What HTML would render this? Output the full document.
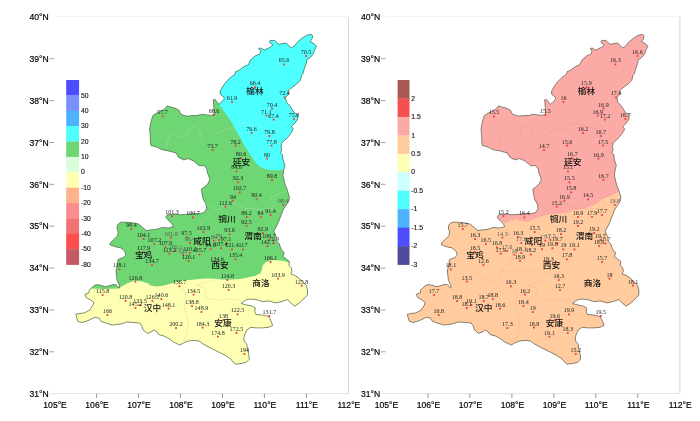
<!DOCTYPE html>
<html lang="zh"><head><meta charset="utf-8"><title>陕西省 降水与气温分布</title>
<style>
html,body{margin:0;padding:0;background:#fff;}
body{width:700px;height:421px;overflow:hidden;}
svg{display:block;}
.ax{font-family:"Liberation Sans","Noto Sans CJK SC",sans-serif;font-size:8.6px;fill:#000;stroke:#000;stroke-width:0.18px;}
.cb{font-family:"Liberation Sans","Noto Sans CJK SC",sans-serif;font-size:6.8px;fill:#111;stroke:#111;stroke-width:0.12px;}
.v{font-family:"Liberation Serif","Noto Serif CJK SC",serif;font-size:6.05px;fill:#1c1c1c;}
.g{fill:#555;}
.c{font-family:"Liberation Sans","Noto Sans CJK SC",sans-serif;font-size:8.2px;fill:#111;font-weight:500;}
</style></head><body>
<svg width="700" height="421" viewBox="0 0 700 421">
<rect width="700" height="421" fill="#fff"/>
<g id="left">
<line x1="55.0" y1="16.6" x2="348.5" y2="16.6" stroke="#f3f3f3" stroke-width="1"/>
<line x1="50.0" y1="393.6" x2="348.5" y2="393.6" stroke="#e3e3e3" stroke-width="1"/>
<line x1="348.5" y1="17" x2="348.5" y2="393.6" stroke="#d6d6d6" stroke-width="1"/>
<text class="ax" x="29.5" y="396.9">31°N</text>
<text class="ax" x="29.5" y="355.0">32°N</text>
<line x1="49.4" y1="351.8" x2="54.2" y2="351.8" stroke="#8a8a8a" stroke-width="0.8"/>
<text class="ax" x="29.5" y="313.2">33°N</text>
<line x1="49.4" y1="310.0" x2="54.2" y2="310.0" stroke="#8a8a8a" stroke-width="0.8"/>
<text class="ax" x="29.5" y="271.3">34°N</text>
<line x1="49.4" y1="268.1" x2="54.2" y2="268.1" stroke="#8a8a8a" stroke-width="0.8"/>
<text class="ax" x="29.5" y="229.4">35°N</text>
<line x1="49.4" y1="226.2" x2="54.2" y2="226.2" stroke="#8a8a8a" stroke-width="0.8"/>
<text class="ax" x="29.5" y="187.6">36°N</text>
<line x1="49.4" y1="184.3" x2="54.2" y2="184.3" stroke="#8a8a8a" stroke-width="0.8"/>
<text class="ax" x="29.5" y="145.7">37°N</text>
<line x1="49.4" y1="142.5" x2="54.2" y2="142.5" stroke="#8a8a8a" stroke-width="0.8"/>
<text class="ax" x="29.5" y="103.8">38°N</text>
<line x1="49.4" y1="100.6" x2="54.2" y2="100.6" stroke="#8a8a8a" stroke-width="0.8"/>
<text class="ax" x="29.5" y="61.9">39°N</text>
<line x1="49.4" y1="58.7" x2="54.2" y2="58.7" stroke="#8a8a8a" stroke-width="0.8"/>
<text class="ax" x="29.5" y="20.1">40°N</text>
<text class="ax" text-anchor="middle" x="55.1" y="408.2">105°E</text>
<text class="ax" text-anchor="middle" x="97.1" y="408.2">106°E</text>
<line x1="96.6" y1="393.6" x2="96.6" y2="398" stroke="#7c7c7c" stroke-width="0.8"/>
<text class="ax" text-anchor="middle" x="139.0" y="408.2">107°E</text>
<line x1="138.5" y1="393.6" x2="138.5" y2="398" stroke="#7c7c7c" stroke-width="0.8"/>
<text class="ax" text-anchor="middle" x="181.0" y="408.2">108°E</text>
<line x1="180.5" y1="393.6" x2="180.5" y2="398" stroke="#7c7c7c" stroke-width="0.8"/>
<text class="ax" text-anchor="middle" x="223.0" y="408.2">109°E</text>
<line x1="222.5" y1="393.6" x2="222.5" y2="398" stroke="#7c7c7c" stroke-width="0.8"/>
<text class="ax" text-anchor="middle" x="264.9" y="408.2">110°E</text>
<line x1="264.4" y1="393.6" x2="264.4" y2="398" stroke="#7c7c7c" stroke-width="0.8"/>
<text class="ax" text-anchor="middle" x="306.9" y="408.2">111°E</text>
<line x1="306.4" y1="393.6" x2="306.4" y2="398" stroke="#7c7c7c" stroke-width="0.8"/>
<text class="ax" text-anchor="middle" x="348.9" y="408.2">112°E</text>
<rect x="66.2" y="80.00" width="12.9" height="15.68" fill="#4d4dff"/>
<rect x="66.2" y="95.38" width="12.9" height="15.68" fill="#7a90ff"/>
<rect x="66.2" y="110.77" width="12.9" height="15.68" fill="#4db3ff"/>
<rect x="66.2" y="126.15" width="12.9" height="15.68" fill="#4dffff"/>
<rect x="66.2" y="141.53" width="12.9" height="15.68" fill="#6fd674"/>
<rect x="66.2" y="156.92" width="12.9" height="15.68" fill="#d9ffd9"/>
<rect x="66.2" y="172.30" width="12.9" height="15.68" fill="#ffffb3"/>
<rect x="66.2" y="187.68" width="12.9" height="15.68" fill="#ffb38c"/>
<rect x="66.2" y="203.07" width="12.9" height="15.68" fill="#ff8c8c"/>
<rect x="66.2" y="218.45" width="12.9" height="15.68" fill="#f07272"/>
<rect x="66.2" y="233.83" width="12.9" height="15.68" fill="#ff4d4d"/>
<rect x="66.2" y="249.22" width="12.9" height="15.68" fill="#c45a64"/>
<text class="cb" x="81.0" y="97.5">50</text>
<text class="cb" x="81.0" y="112.9">40</text>
<text class="cb" x="81.0" y="128.2">30</text>
<text class="cb" x="81.0" y="143.6">20</text>
<text class="cb" x="81.0" y="159.0">10</text>
<text class="cb" x="81.0" y="174.4">0</text>
<text class="cb" x="81.0" y="189.8">-10</text>
<text class="cb" x="81.0" y="205.2">-20</text>
<text class="cb" x="81.0" y="220.6">-30</text>
<text class="cb" x="81.0" y="235.9">-40</text>
<text class="cb" x="81.0" y="251.3">-50</text>
<text class="cb" x="81.0" y="266.7">-80</text>
<clipPath id="clip0"><polygon points="311.3,34.3 312.6,35.9 312.0,39.1 310.0,41.7 313.9,43.6 316.5,46.2 314.6,50.1 313.3,53.9 310.0,57.8 306.8,59.7 306.2,63.6 304.3,68.7 303.0,73.8 301.7,75.1 300.4,80.3 296.6,84.1 291.4,88.0 288.2,90.6 288.2,94.4 285.6,97.6 286.3,102.1 289.5,105.3 292.0,109.2 294.0,112.4 297.2,114.3 297.8,117.6 297.2,120.1 294.0,124.0 291.4,126.6 293.3,129.1 290.8,133.6 287.6,137.5 284.3,140.7 281.8,142.6 281.1,147.1 281.8,149.7 280.5,152.3 282.4,154.8 283.0,159.3 284.3,163.8 285.0,165.1 283.7,170.3 283.0,175.4 284.3,181.2 285.6,185.7 287.6,190.8 289.5,197.3 288.8,201.1 286.3,205.0 283.0,210.1 281.1,215.3 279.2,220.4 276.6,226.2 274.0,230.7 274.7,233.9 276.6,237.1 276.6,241.0 279.2,243.6 280.5,247.4 281.8,250.6 284.3,252.6 283.0,256.4 286.3,259.0 289.5,261.6 288.8,265.4 291.4,268.0 292.0,271.2 290.8,273.8 295.3,275.7 299.1,278.3 303.0,282.1 306.2,285.3 307.5,289.8 307.4,295.1 303.5,299.0 299.7,302.9 294.6,306.1 290.7,302.9 287.5,299.6 281.7,301.6 275.3,302.9 268.8,300.9 262.4,301.6 256.0,299.6 249.6,299.0 245.1,300.3 241.2,303.5 245.7,304.8 252.1,306.1 255.3,308.0 254.7,311.9 256.0,314.4 262.4,315.1 268.2,316.3 270.1,318.9 271.4,322.1 272.7,325.3 268.8,327.3 262.4,327.9 256.0,327.9 250.8,327.3 247.0,329.8 245.1,333.7 243.8,337.6 244.3,341.1 246.8,344.3 247.5,349.4 248.8,354.6 249.4,359.1 246.2,362.3 241.0,363.6 235.9,364.2 233.3,362.3 230.8,359.1 225.0,355.2 218.6,352.0 212.1,348.8 207.0,346.2 202.5,343.6 199.3,341.1 194.1,340.4 188.4,341.0 183.3,343.0 180.0,345.0 176.8,343.7 173.0,341.8 169.0,338.6 164.0,336.0 158.8,334.7 157.0,332.0 154.3,330.0 151.0,332.0 147.3,333.4 142.8,329.6 142.0,326.3 139.6,323.0 133.0,322.5 126.7,321.9 121.6,323.8 116.4,324.5 112.6,325.1 106.1,323.2 101.0,321.3 99.1,318.1 94.6,317.4 88.1,320.6 81.7,322.6 77.9,321.3 76.6,317.4 75.9,314.2 79.1,313.6 84.3,312.9 89.4,310.3 92.6,305.8 93.9,302.6 90.7,300.0 86.2,297.5 84.9,294.3 88.8,293.0 89.4,289.8 91.3,287.9 94.6,285.3 97.1,284.6 101.0,285.3 104.8,286.6 108.7,285.9 112.6,284.6 115.8,284.6 119.3,288.0 119.6,286.0 119.0,284.6 117.0,280.1 116.4,275.0 116.0,271.0 117.5,264.0 118.1,259.5 123.3,257.6 125.9,255.0 124.6,251.1 120.7,247.9 114.3,246.6 109.8,244.7 110.4,242.8 114.3,238.9 117.5,235.7 118.1,231.9 116.9,228.0 117.5,224.8 120.7,222.2 127.1,222.2 133.6,222.9 138.7,224.1 142.6,227.4 146.4,230.6 150.3,229.9 156.7,229.3 161.8,227.4 168.3,228.0 173.4,226.7 172.1,224.1 168.9,220.9 165.7,217.1 167.6,214.5 172.1,214.5 175.7,214.2 180.8,214.8 187.3,214.2 193.7,213.6 200.1,213.6 204.6,212.3 206.6,208.4 205.9,203.9 203.3,199.4 202.1,194.3 201.4,189.1 204.0,187.2 207.8,184.0 209.8,179.5 208.5,175.0 207.5,173.4 206.8,168.9 204.3,165.7 199.1,165.7 194.0,161.2 188.2,158.6 183.7,159.9 178.6,157.4 176.0,152.9 168.3,150.9 161.2,149.6 156.7,147.1 150.9,145.5 150.3,141.0 150.3,136.1 149.6,129.7 150.3,124.6 151.6,119.4 152.9,115.6 156.7,113.0 161.2,111.1 165.1,108.5 167.0,105.9 171.5,107.2 176.0,108.5 179.2,110.4 180.5,113.6 183.7,115.3 187.6,116.2 191.4,115.6 196.6,115.6 201.7,114.3 206.8,114.9 210.7,115.3 214.3,114.3 213.9,107.9 213.5,102.7 213.1,100.0 215.1,99.3 217.0,101.9 218.9,104.5 221.5,101.9 224.1,99.3 224.1,97.4 220.2,94.2 220.2,91.0 222.8,86.5 226.0,82.0 230.5,77.5 235.0,74.3 235.6,71.7 238.8,70.4 244.0,66.6 248.5,64.6 250.4,60.1 255.4,55.8 259.9,53.9 260.6,50.7 258.6,48.8 260.6,47.9 264.4,50.1 270.8,46.9 272.8,44.9 269.6,42.4 270.2,40.4 274.7,40.4 278.6,44.3 282.4,43.6 286.3,43.0 289.5,46.2 291.4,48.1 294.0,46.2 297.8,41.7 301.7,38.5 306.8,35.3"/></clipPath>
<g clip-path="url(#clip0)">
<rect x="60.0" y="20" width="280" height="360" fill="#6fd674"/>
<polygon points="200.0,20.0 200.0,99.5 215.0,99.5 222.1,109.0 230.0,119.4 240.0,137.5 245.0,146.5 250.3,154.8 254.0,160.0 256.7,163.9 260.6,167.1 265.7,169.3 272.0,170.3 278.6,170.3 283.7,169.6 300.0,169.0 330.0,100.0 330.0,20.0" fill="#4dffff"/>
<polygon points="60.0,288.5 91.3,288.5 103.6,288.9 119.0,288.5 121.6,286.6 126.7,283.4 134.4,280.8 142.1,281.4 148.5,283.6 150.0,285.2 156.4,286.5 162.9,285.8 169.3,283.9 175.7,282.0 182.1,280.7 188.6,280.1 195.0,279.4 201.4,278.8 207.8,278.4 214.3,278.8 220.7,279.4 227.1,279.7 233.5,279.4 240.0,278.9 247.7,277.6 255.4,275.7 260.6,273.1 261.9,269.3 262.5,265.4 265.7,262.2 270.8,260.3 277.3,260.3 283.7,260.9 290.0,262.9 330.0,263.0 330.0,380.0 60.0,380.0" fill="#ffffb3"/>
<polyline points="167.0,146.0 168.0,139.0 170.0,134.0 175.0,134.0 178.0,138.0 183.0,137.0 189.0,133.0 190.0,128.0 195.0,126.0 199.0,130.0 201.0,136.0 203.0,143.0" fill="none" stroke="rgba(195,228,205,0.55)" stroke-width="0.6"/>
<polyline points="212.0,137.0 216.0,133.0 224.0,130.0 234.0,128.0 240.0,124.0 244.0,123.0 250.0,125.0 258.0,127.0 265.0,130.0 268.0,134.0 270.0,140.0 278.0,143.0 281.5,142.5" fill="none" stroke="rgba(195,228,205,0.55)" stroke-width="0.6"/>
<polyline points="287.6,190.8 282.4,192.8 276.0,195.3 270.2,197.9 272.8,201.1 275.3,203.7 272.1,208.2 265.7,208.8 259.3,209.5 252.9,208.2 245.1,208.8 240.0,206.9 232.3,202.0 227.1,203.9 223.3,206.5 219.4,209.1 214.3,209.7 210.4,205.8 205.9,203.9" fill="none" stroke="rgba(195,228,205,0.55)" stroke-width="0.6"/>
<polyline points="214.3,209.7 210.4,214.8 206.6,218.7 201.4,223.8 198.8,229.0" fill="none" stroke="rgba(195,228,205,0.55)" stroke-width="0.6"/>
<polyline points="179.0,286.0 184.0,290.0 186.0,296.0 184.0,304.0 185.0,310.0 188.0,320.0 187.0,332.0 184.0,341.0" fill="none" stroke="rgba(140,140,110,0.42)" stroke-width="0.6" stroke-dasharray="1.2 0.8"/>
<polyline points="196.0,285.0 206.0,288.0 204.0,296.0 208.0,299.0 220.0,300.0 230.0,299.0 240.0,300.0 242.0,303.0" fill="none" stroke="rgba(140,140,110,0.42)" stroke-width="0.6" stroke-dasharray="1.2 0.8"/>
<polyline points="196.0,285.0 205.0,282.5 214.0,280.5" fill="none" stroke="rgba(140,140,110,0.42)" stroke-width="0.6" stroke-dasharray="1.2 0.8"/>
<polyline points="144.0,279.0 150.0,278.0 158.0,282.0 168.0,277.0 170.0,270.0 174.0,266.0 179.0,263.0 182.0,256.0 181.0,249.0 178.0,243.0 179.0,236.0 176.0,230.0 173.4,226.7" fill="none" stroke="rgba(150,200,150,0.55)" stroke-width="0.6" stroke-dasharray="1.2 0.8"/>
<polyline points="170.0,270.0 178.0,272.0 186.0,270.0 196.0,272.0 205.0,269.0 214.0,272.0 222.0,277.0 234.0,279.0" fill="none" stroke="rgba(150,200,150,0.55)" stroke-width="0.6" stroke-dasharray="1.2 0.8"/>
</g>
<polygon points="311.3,34.3 312.6,35.9 312.0,39.1 310.0,41.7 313.9,43.6 316.5,46.2 314.6,50.1 313.3,53.9 310.0,57.8 306.8,59.7 306.2,63.6 304.3,68.7 303.0,73.8 301.7,75.1 300.4,80.3 296.6,84.1 291.4,88.0 288.2,90.6 288.2,94.4 285.6,97.6 286.3,102.1 289.5,105.3 292.0,109.2 294.0,112.4 297.2,114.3 297.8,117.6 297.2,120.1 294.0,124.0 291.4,126.6 293.3,129.1 290.8,133.6 287.6,137.5 284.3,140.7 281.8,142.6 281.1,147.1 281.8,149.7 280.5,152.3 282.4,154.8 283.0,159.3 284.3,163.8 285.0,165.1 283.7,170.3 283.0,175.4 284.3,181.2 285.6,185.7 287.6,190.8 289.5,197.3 288.8,201.1 286.3,205.0 283.0,210.1 281.1,215.3 279.2,220.4 276.6,226.2 274.0,230.7 274.7,233.9 276.6,237.1 276.6,241.0 279.2,243.6 280.5,247.4 281.8,250.6 284.3,252.6 283.0,256.4 286.3,259.0 289.5,261.6 288.8,265.4 291.4,268.0 292.0,271.2 290.8,273.8 295.3,275.7 299.1,278.3 303.0,282.1 306.2,285.3 307.5,289.8 307.4,295.1 303.5,299.0 299.7,302.9 294.6,306.1 290.7,302.9 287.5,299.6 281.7,301.6 275.3,302.9 268.8,300.9 262.4,301.6 256.0,299.6 249.6,299.0 245.1,300.3 241.2,303.5 245.7,304.8 252.1,306.1 255.3,308.0 254.7,311.9 256.0,314.4 262.4,315.1 268.2,316.3 270.1,318.9 271.4,322.1 272.7,325.3 268.8,327.3 262.4,327.9 256.0,327.9 250.8,327.3 247.0,329.8 245.1,333.7 243.8,337.6 244.3,341.1 246.8,344.3 247.5,349.4 248.8,354.6 249.4,359.1 246.2,362.3 241.0,363.6 235.9,364.2 233.3,362.3 230.8,359.1 225.0,355.2 218.6,352.0 212.1,348.8 207.0,346.2 202.5,343.6 199.3,341.1 194.1,340.4 188.4,341.0 183.3,343.0 180.0,345.0 176.8,343.7 173.0,341.8 169.0,338.6 164.0,336.0 158.8,334.7 157.0,332.0 154.3,330.0 151.0,332.0 147.3,333.4 142.8,329.6 142.0,326.3 139.6,323.0 133.0,322.5 126.7,321.9 121.6,323.8 116.4,324.5 112.6,325.1 106.1,323.2 101.0,321.3 99.1,318.1 94.6,317.4 88.1,320.6 81.7,322.6 77.9,321.3 76.6,317.4 75.9,314.2 79.1,313.6 84.3,312.9 89.4,310.3 92.6,305.8 93.9,302.6 90.7,300.0 86.2,297.5 84.9,294.3 88.8,293.0 89.4,289.8 91.3,287.9 94.6,285.3 97.1,284.6 101.0,285.3 104.8,286.6 108.7,285.9 112.6,284.6 115.8,284.6 119.3,288.0 119.6,286.0 119.0,284.6 117.0,280.1 116.4,275.0 116.0,271.0 117.5,264.0 118.1,259.5 123.3,257.6 125.9,255.0 124.6,251.1 120.7,247.9 114.3,246.6 109.8,244.7 110.4,242.8 114.3,238.9 117.5,235.7 118.1,231.9 116.9,228.0 117.5,224.8 120.7,222.2 127.1,222.2 133.6,222.9 138.7,224.1 142.6,227.4 146.4,230.6 150.3,229.9 156.7,229.3 161.8,227.4 168.3,228.0 173.4,226.7 172.1,224.1 168.9,220.9 165.7,217.1 167.6,214.5 172.1,214.5 175.7,214.2 180.8,214.8 187.3,214.2 193.7,213.6 200.1,213.6 204.6,212.3 206.6,208.4 205.9,203.9 203.3,199.4 202.1,194.3 201.4,189.1 204.0,187.2 207.8,184.0 209.8,179.5 208.5,175.0 207.5,173.4 206.8,168.9 204.3,165.7 199.1,165.7 194.0,161.2 188.2,158.6 183.7,159.9 178.6,157.4 176.0,152.9 168.3,150.9 161.2,149.6 156.7,147.1 150.9,145.5 150.3,141.0 150.3,136.1 149.6,129.7 150.3,124.6 151.6,119.4 152.9,115.6 156.7,113.0 161.2,111.1 165.1,108.5 167.0,105.9 171.5,107.2 176.0,108.5 179.2,110.4 180.5,113.6 183.7,115.3 187.6,116.2 191.4,115.6 196.6,115.6 201.7,114.3 206.8,114.9 210.7,115.3 214.3,114.3 213.9,107.9 213.5,102.7 213.1,100.0 215.1,99.3 217.0,101.9 218.9,104.5 221.5,101.9 224.1,99.3 224.1,97.4 220.2,94.2 220.2,91.0 222.8,86.5 226.0,82.0 230.5,77.5 235.0,74.3 235.6,71.7 238.8,70.4 244.0,66.6 248.5,64.6 250.4,60.1 255.4,55.8 259.9,53.9 260.6,50.7 258.6,48.8 260.6,47.9 264.4,50.1 270.8,46.9 272.8,44.9 269.6,42.4 270.2,40.4 274.7,40.4 278.6,44.3 282.4,43.6 286.3,43.0 289.5,46.2 291.4,48.1 294.0,46.2 297.8,41.7 301.7,38.5 306.8,35.3" fill="none" stroke="#2c3a2c" stroke-width="0.55" stroke-linejoin="round"/>
<rect x="305.1" y="55.1" width="1.8" height="1.8" fill="#f23a3a"/>
<rect x="283.1" y="63.5" width="1.8" height="1.8" fill="#f23a3a"/>
<rect x="254.1" y="86.5" width="1.8" height="1.8" fill="#f23a3a"/>
<rect x="283.7" y="96.5" width="1.8" height="1.8" fill="#f23a3a"/>
<rect x="231.1" y="101.1" width="1.8" height="1.8" fill="#f23a3a"/>
<rect x="213.1" y="114.1" width="1.8" height="1.8" fill="#f23a3a"/>
<rect x="271.1" y="107.7" width="1.8" height="1.8" fill="#f23a3a"/>
<rect x="265.5" y="114.7" width="1.8" height="1.8" fill="#f23a3a"/>
<rect x="272.7" y="118.7" width="1.8" height="1.8" fill="#f23a3a"/>
<rect x="293.1" y="118.1" width="1.8" height="1.8" fill="#f23a3a"/>
<rect x="250.7" y="132.1" width="1.8" height="1.8" fill="#f23a3a"/>
<rect x="268.5" y="135.1" width="1.8" height="1.8" fill="#f23a3a"/>
<rect x="270.7" y="144.7" width="1.8" height="1.8" fill="#f23a3a"/>
<rect x="234.7" y="144.7" width="1.8" height="1.8" fill="#f23a3a"/>
<rect x="211.7" y="149.1" width="1.8" height="1.8" fill="#f23a3a"/>
<rect x="240.1" y="157.5" width="1.8" height="1.8" fill="#f23a3a"/>
<rect x="266.1" y="157.7" width="1.8" height="1.8" fill="#f23a3a"/>
<rect x="161.7" y="115.5" width="1.8" height="1.8" fill="#f23a3a"/>
<rect x="235.7" y="170.5" width="1.8" height="1.8" fill="#f23a3a"/>
<rect x="237.1" y="181.5" width="1.8" height="1.8" fill="#f23a3a"/>
<rect x="271.1" y="179.1" width="1.8" height="1.8" fill="#f23a3a"/>
<rect x="238.7" y="191.5" width="1.8" height="1.8" fill="#f23a3a"/>
<rect x="232.1" y="199.7" width="1.8" height="1.8" fill="#f23a3a"/>
<rect x="255.7" y="198.5" width="1.8" height="1.8" fill="#f23a3a"/>
<rect x="282.5" y="204.1" width="1.8" height="1.8" fill="#f23a3a"/>
<rect x="224.5" y="205.7" width="1.8" height="1.8" fill="#f23a3a"/>
<rect x="171.1" y="215.3" width="1.8" height="1.8" fill="#f23a3a"/>
<rect x="192.1" y="216.6" width="1.8" height="1.8" fill="#f23a3a"/>
<rect x="245.7" y="216.1" width="1.8" height="1.8" fill="#f23a3a"/>
<rect x="259.7" y="216.1" width="1.8" height="1.8" fill="#f23a3a"/>
<rect x="269.7" y="214.1" width="1.8" height="1.8" fill="#f23a3a"/>
<rect x="245.7" y="225.1" width="1.8" height="1.8" fill="#f23a3a"/>
<rect x="202.5" y="231.1" width="1.8" height="1.8" fill="#f23a3a"/>
<rect x="228.7" y="233.3" width="1.8" height="1.8" fill="#f23a3a"/>
<rect x="261.9" y="232.1" width="1.8" height="1.8" fill="#f23a3a"/>
<rect x="130.5" y="228.1" width="1.8" height="1.8" fill="#f23a3a"/>
<rect x="142.7" y="238.1" width="1.8" height="1.8" fill="#f23a3a"/>
<rect x="153.5" y="243.1" width="1.8" height="1.8" fill="#f23a3a"/>
<rect x="170.1" y="236.7" width="1.8" height="1.8" fill="#f23a3a"/>
<rect x="185.7" y="236.1" width="1.8" height="1.8" fill="#f23a3a"/>
<rect x="164.7" y="246.5" width="1.8" height="1.8" fill="#f23a3a"/>
<rect x="142.7" y="251.1" width="1.8" height="1.8" fill="#f23a3a"/>
<rect x="168.5" y="252.7" width="1.8" height="1.8" fill="#f23a3a"/>
<rect x="174.7" y="250.1" width="1.8" height="1.8" fill="#f23a3a"/>
<rect x="182.1" y="253.7" width="1.8" height="1.8" fill="#f23a3a"/>
<rect x="189.1" y="252.1" width="1.8" height="1.8" fill="#f23a3a"/>
<rect x="198.5" y="253.6" width="1.8" height="1.8" fill="#f23a3a"/>
<rect x="189.1" y="242.1" width="1.8" height="1.8" fill="#f23a3a"/>
<rect x="199.6" y="244.1" width="1.8" height="1.8" fill="#f23a3a"/>
<rect x="209.7" y="248.3" width="1.8" height="1.8" fill="#f23a3a"/>
<rect x="220.1" y="247.4" width="1.8" height="1.8" fill="#f23a3a"/>
<rect x="218.1" y="239.1" width="1.8" height="1.8" fill="#f23a3a"/>
<rect x="213.1" y="239.7" width="1.8" height="1.8" fill="#f23a3a"/>
<rect x="225.1" y="242.5" width="1.8" height="1.8" fill="#f23a3a"/>
<rect x="187.7" y="260.1" width="1.8" height="1.8" fill="#f23a3a"/>
<rect x="151.1" y="264.1" width="1.8" height="1.8" fill="#f23a3a"/>
<rect x="118.6" y="268.5" width="1.8" height="1.8" fill="#f23a3a"/>
<rect x="216.1" y="261.9" width="1.8" height="1.8" fill="#f23a3a"/>
<rect x="231.1" y="248.5" width="1.8" height="1.8" fill="#f23a3a"/>
<rect x="242.1" y="248.5" width="1.8" height="1.8" fill="#f23a3a"/>
<rect x="268.1" y="239.1" width="1.8" height="1.8" fill="#f23a3a"/>
<rect x="273.1" y="242.5" width="1.8" height="1.8" fill="#f23a3a"/>
<rect x="266.7" y="245.1" width="1.8" height="1.8" fill="#f23a3a"/>
<rect x="234.7" y="258.5" width="1.8" height="1.8" fill="#f23a3a"/>
<rect x="269.7" y="261.1" width="1.8" height="1.8" fill="#f23a3a"/>
<rect x="226.5" y="279.1" width="1.8" height="1.8" fill="#f23a3a"/>
<rect x="277.1" y="277.7" width="1.8" height="1.8" fill="#f23a3a"/>
<rect x="300.7" y="284.7" width="1.8" height="1.8" fill="#f23a3a"/>
<rect x="227.7" y="289.1" width="1.8" height="1.8" fill="#f23a3a"/>
<rect x="192.7" y="293.7" width="1.8" height="1.8" fill="#f23a3a"/>
<rect x="191.1" y="305.1" width="1.8" height="1.8" fill="#f23a3a"/>
<rect x="258.1" y="283.7" width="1.8" height="1.8" fill="#f23a3a"/>
<rect x="178.6" y="285.4" width="1.8" height="1.8" fill="#f23a3a"/>
<rect x="134.5" y="280.7" width="1.8" height="1.8" fill="#f23a3a"/>
<rect x="101.7" y="294.1" width="1.8" height="1.8" fill="#f23a3a"/>
<rect x="124.7" y="300.1" width="1.8" height="1.8" fill="#f23a3a"/>
<rect x="106.5" y="314.1" width="1.8" height="1.8" fill="#f23a3a"/>
<rect x="134.5" y="307.1" width="1.8" height="1.8" fill="#f23a3a"/>
<rect x="139.1" y="304.1" width="1.8" height="1.8" fill="#f23a3a"/>
<rect x="151.5" y="300.1" width="1.8" height="1.8" fill="#f23a3a"/>
<rect x="160.5" y="298.1" width="1.8" height="1.8" fill="#f23a3a"/>
<rect x="167.7" y="307.7" width="1.8" height="1.8" fill="#f23a3a"/>
<rect x="175.1" y="327.1" width="1.8" height="1.8" fill="#f23a3a"/>
<rect x="200.5" y="311.1" width="1.8" height="1.8" fill="#f23a3a"/>
<rect x="236.7" y="313.5" width="1.8" height="1.8" fill="#f23a3a"/>
<rect x="268.5" y="315.1" width="1.8" height="1.8" fill="#f23a3a"/>
<rect x="222.5" y="319.1" width="1.8" height="1.8" fill="#f23a3a"/>
<rect x="201.7" y="326.7" width="1.8" height="1.8" fill="#f23a3a"/>
<rect x="235.5" y="332.1" width="1.8" height="1.8" fill="#f23a3a"/>
<rect x="217.1" y="335.7" width="1.8" height="1.8" fill="#f23a3a"/>
<rect x="243.5" y="353.1" width="1.8" height="1.8" fill="#f23a3a"/>
<rect x="254.1" y="86.5" width="1.8" height="1.8" fill="#f23a3a"/>
<text class="v" text-anchor="middle" x="306.0" y="53.9">70.5</text>
<text class="v" text-anchor="middle" x="284.0" y="62.3">65.6</text>
<text class="v" text-anchor="middle" x="255.0" y="85.3">66.4</text>
<text class="v" text-anchor="middle" x="284.6" y="95.3">72.4</text>
<text class="v" text-anchor="middle" x="232.0" y="99.9">61.9</text>
<text class="v" text-anchor="middle" x="214.0" y="112.9">68.6</text>
<text class="v" text-anchor="middle" x="272.0" y="106.5">70.4</text>
<text class="v" text-anchor="middle" x="266.4" y="113.5">71.1</text>
<text class="v" text-anchor="middle" x="273.6" y="117.5">67.4</text>
<text class="v" text-anchor="middle" x="294.0" y="116.9">75.8</text>
<text class="v" text-anchor="middle" x="251.6" y="130.9">76.6</text>
<text class="v" text-anchor="middle" x="269.4" y="133.9">79.8</text>
<text class="v" text-anchor="middle" x="271.6" y="143.5">77.8</text>
<text class="v" text-anchor="middle" x="235.6" y="143.5">78.2</text>
<text class="v" text-anchor="middle" x="212.6" y="147.9">73.7</text>
<text class="v" text-anchor="middle" x="241.0" y="156.3">80.6</text>
<text class="v" text-anchor="middle" x="267.0" y="156.5">80</text>
<text class="v" text-anchor="middle" x="162.6" y="114.3">57.7</text>
<text class="v" text-anchor="middle" x="236.6" y="169.3">84.8</text>
<text class="v" text-anchor="middle" x="238.0" y="180.3">92.3</text>
<text class="v" text-anchor="middle" x="272.0" y="177.9">89.8</text>
<text class="v" text-anchor="middle" x="239.6" y="190.3">102.7</text>
<text class="v" text-anchor="middle" x="233.0" y="198.5">94</text>
<text class="v" text-anchor="middle" x="256.6" y="197.3">90.4</text>
<text class="v g" text-anchor="middle" x="283.4" y="202.9">98.4</text>
<text class="v" text-anchor="middle" x="225.4" y="204.5">112.6</text>
<text class="v" text-anchor="middle" x="172.0" y="214.1">101.3</text>
<text class="v" text-anchor="middle" x="193.0" y="215.4">100.7</text>
<text class="v" text-anchor="middle" x="246.6" y="214.9">89.2</text>
<text class="v" text-anchor="middle" x="260.6" y="214.9">84</text>
<text class="v" text-anchor="middle" x="270.6" y="212.9">91.4</text>
<text class="v" text-anchor="middle" x="246.6" y="223.9">92.5</text>
<text class="v" text-anchor="middle" x="203.4" y="229.9">102.9</text>
<text class="v" text-anchor="middle" x="229.6" y="232.1">93.6</text>
<text class="v" text-anchor="middle" x="262.8" y="230.9">92.9</text>
<text class="v" text-anchor="middle" x="131.4" y="226.9">98.4</text>
<text class="v" text-anchor="middle" x="143.6" y="236.9">104.1</text>
<text class="v" text-anchor="middle" x="154.4" y="241.9">107.2</text>
<text class="v g" text-anchor="middle" x="171.0" y="235.5">101.9</text>
<text class="v" text-anchor="middle" x="186.6" y="234.9">97.5</text>
<text class="v" text-anchor="middle" x="165.6" y="245.3">107.9</text>
<text class="v" text-anchor="middle" x="143.6" y="249.9">117.9</text>
<text class="v" text-anchor="middle" x="169.4" y="251.5">113.2</text>
<text class="v g" text-anchor="middle" x="175.6" y="248.9">105.1</text>
<text class="v g" text-anchor="middle" x="183.0" y="252.5">121</text>
<text class="v" text-anchor="middle" x="190.0" y="250.9">110.2</text>
<text class="v" text-anchor="middle" x="199.4" y="252.4">105.7</text>
<text class="v g" text-anchor="middle" x="190.0" y="240.9">96.4</text>
<text class="v" text-anchor="middle" x="210.6" y="247.1">94.8</text>
<text class="v" text-anchor="middle" x="221.0" y="246.2">107.4</text>
<text class="v g" text-anchor="middle" x="219.0" y="237.9">76</text>
<text class="v g" text-anchor="middle" x="214.0" y="238.5">84</text>
<text class="v" text-anchor="middle" x="226.0" y="241.3">97.1</text>
<text class="v" text-anchor="middle" x="188.6" y="258.9">120.1</text>
<text class="v" text-anchor="middle" x="152.0" y="262.9">134.7</text>
<text class="v" text-anchor="middle" x="119.5" y="267.3">118.1</text>
<text class="v" text-anchor="middle" x="217.0" y="260.7">134.6</text>
<text class="v" text-anchor="middle" x="232.0" y="247.3">121.4</text>
<text class="v" text-anchor="middle" x="243.0" y="247.3">117</text>
<text class="v" text-anchor="middle" x="269.0" y="237.9">106.7</text>
<text class="v g" text-anchor="middle" x="274.0" y="241.3">78.9</text>
<text class="v" text-anchor="middle" x="267.6" y="243.9">142.7</text>
<text class="v" text-anchor="middle" x="235.6" y="257.3">135.4</text>
<text class="v" text-anchor="middle" x="270.6" y="259.9">106.1</text>
<text class="v" text-anchor="middle" x="227.4" y="277.9">114.8</text>
<text class="v" text-anchor="middle" x="278.0" y="276.5">103.9</text>
<text class="v" text-anchor="middle" x="301.6" y="283.5">125.8</text>
<text class="v" text-anchor="middle" x="228.6" y="287.9">120.3</text>
<text class="v" text-anchor="middle" x="193.6" y="292.5">134.5</text>
<text class="v" text-anchor="middle" x="192.0" y="303.9">138.8</text>
<text class="v" text-anchor="middle" x="179.5" y="284.2">136.7</text>
<text class="v" text-anchor="middle" x="135.4" y="279.5">126.8</text>
<text class="v" text-anchor="middle" x="102.6" y="292.9">115.8</text>
<text class="v" text-anchor="middle" x="125.6" y="298.9">120.8</text>
<text class="v" text-anchor="middle" x="107.4" y="312.9">166</text>
<text class="v" text-anchor="middle" x="135.4" y="305.9">145.2</text>
<text class="v" text-anchor="middle" x="140.0" y="302.9">133.5</text>
<text class="v" text-anchor="middle" x="152.4" y="298.9">126.2</text>
<text class="v" text-anchor="middle" x="161.4" y="296.9">140.6</text>
<text class="v" text-anchor="middle" x="168.6" y="306.5">148.1</text>
<text class="v" text-anchor="middle" x="176.0" y="325.9">200.2</text>
<text class="v" text-anchor="middle" x="201.4" y="309.9">148.9</text>
<text class="v" text-anchor="middle" x="237.6" y="312.3">122.5</text>
<text class="v" text-anchor="middle" x="269.4" y="313.9">131.7</text>
<text class="v" text-anchor="middle" x="223.4" y="317.9">138</text>
<text class="v" text-anchor="middle" x="202.6" y="325.5">184.3</text>
<text class="v" text-anchor="middle" x="236.4" y="330.9">172.5</text>
<text class="v" text-anchor="middle" x="218.0" y="334.5">174.8</text>
<text class="v" text-anchor="middle" x="244.4" y="351.9">194</text>
<text class="c" x="246.3" y="93.7" textLength="17.4" lengthAdjust="spacingAndGlyphs">榆林</text>
<text class="c" x="232.7" y="165.1" textLength="17.4" lengthAdjust="spacingAndGlyphs">延安</text>
<text class="c" x="218.3" y="222.1" textLength="17.4" lengthAdjust="spacingAndGlyphs">铜川</text>
<text class="c" x="244.3" y="239.1" textLength="17.4" lengthAdjust="spacingAndGlyphs">渭南</text>
<text class="c" x="193.3" y="244.1" textLength="17.4" lengthAdjust="spacingAndGlyphs">咸阳</text>
<text class="c" x="211.3" y="268.1" textLength="17.4" lengthAdjust="spacingAndGlyphs">西安</text>
<text class="c" x="134.9" y="257.7" textLength="17.4" lengthAdjust="spacingAndGlyphs">宝鸡</text>
<text class="c" x="252.3" y="285.5" textLength="17.4" lengthAdjust="spacingAndGlyphs">商洛</text>
<text class="c" x="143.7" y="310.7" textLength="17.4" lengthAdjust="spacingAndGlyphs">汉中</text>
<text class="c" x="214.3" y="326.1" textLength="17.4" lengthAdjust="spacingAndGlyphs">安康</text>
</g>
<g id="right">
<line x1="386.4" y1="16.6" x2="679.9" y2="16.6" stroke="#f3f3f3" stroke-width="1"/>
<line x1="381.4" y1="393.6" x2="679.9" y2="393.6" stroke="#e3e3e3" stroke-width="1"/>
<line x1="679.9" y1="17" x2="679.9" y2="393.6" stroke="#d6d6d6" stroke-width="1"/>
<text class="ax" x="360.9" y="396.9">31°N</text>
<text class="ax" x="360.9" y="355.0">32°N</text>
<line x1="380.8" y1="351.8" x2="385.6" y2="351.8" stroke="#8a8a8a" stroke-width="0.8"/>
<text class="ax" x="360.9" y="313.2">33°N</text>
<line x1="380.8" y1="310.0" x2="385.6" y2="310.0" stroke="#8a8a8a" stroke-width="0.8"/>
<text class="ax" x="360.9" y="271.3">34°N</text>
<line x1="380.8" y1="268.1" x2="385.6" y2="268.1" stroke="#8a8a8a" stroke-width="0.8"/>
<text class="ax" x="360.9" y="229.4">35°N</text>
<line x1="380.8" y1="226.2" x2="385.6" y2="226.2" stroke="#8a8a8a" stroke-width="0.8"/>
<text class="ax" x="360.9" y="187.6">36°N</text>
<line x1="380.8" y1="184.3" x2="385.6" y2="184.3" stroke="#8a8a8a" stroke-width="0.8"/>
<text class="ax" x="360.9" y="145.7">37°N</text>
<line x1="380.8" y1="142.5" x2="385.6" y2="142.5" stroke="#8a8a8a" stroke-width="0.8"/>
<text class="ax" x="360.9" y="103.8">38°N</text>
<line x1="380.8" y1="100.6" x2="385.6" y2="100.6" stroke="#8a8a8a" stroke-width="0.8"/>
<text class="ax" x="360.9" y="61.9">39°N</text>
<line x1="380.8" y1="58.7" x2="385.6" y2="58.7" stroke="#8a8a8a" stroke-width="0.8"/>
<text class="ax" x="360.9" y="20.1">40°N</text>
<text class="ax" text-anchor="middle" x="386.5" y="408.2">105°E</text>
<text class="ax" text-anchor="middle" x="428.5" y="408.2">106°E</text>
<line x1="428.0" y1="393.6" x2="428.0" y2="398" stroke="#7c7c7c" stroke-width="0.8"/>
<text class="ax" text-anchor="middle" x="470.4" y="408.2">107°E</text>
<line x1="469.9" y1="393.6" x2="469.9" y2="398" stroke="#7c7c7c" stroke-width="0.8"/>
<text class="ax" text-anchor="middle" x="512.4" y="408.2">108°E</text>
<line x1="511.9" y1="393.6" x2="511.9" y2="398" stroke="#7c7c7c" stroke-width="0.8"/>
<text class="ax" text-anchor="middle" x="554.4" y="408.2">109°E</text>
<line x1="553.9" y1="393.6" x2="553.9" y2="398" stroke="#7c7c7c" stroke-width="0.8"/>
<text class="ax" text-anchor="middle" x="596.3" y="408.2">110°E</text>
<line x1="595.8" y1="393.6" x2="595.8" y2="398" stroke="#7c7c7c" stroke-width="0.8"/>
<text class="ax" text-anchor="middle" x="638.3" y="408.2">111°E</text>
<line x1="637.8" y1="393.6" x2="637.8" y2="398" stroke="#7c7c7c" stroke-width="0.8"/>
<text class="ax" text-anchor="middle" x="680.3" y="408.2">112°E</text>
<rect x="397.6" y="80.00" width="11.9" height="18.76" fill="#a85a52"/>
<rect x="397.6" y="98.46" width="11.9" height="18.76" fill="#f55050"/>
<rect x="397.6" y="116.92" width="11.9" height="18.76" fill="#fbaaa5"/>
<rect x="397.6" y="135.38" width="11.9" height="18.76" fill="#ffcb9f"/>
<rect x="397.6" y="153.84" width="11.9" height="18.76" fill="#ffffb3"/>
<rect x="397.6" y="172.30" width="11.9" height="18.76" fill="#ccffff"/>
<rect x="397.6" y="190.76" width="11.9" height="18.76" fill="#4dffff"/>
<rect x="397.6" y="209.22" width="11.9" height="18.76" fill="#4db3ff"/>
<rect x="397.6" y="227.68" width="11.9" height="18.76" fill="#4d4dff"/>
<rect x="397.6" y="246.14" width="11.9" height="18.76" fill="#504a9a"/>
<text class="cb" x="411.3" y="100.6">2</text>
<text class="cb" x="411.3" y="119.0">1.5</text>
<text class="cb" x="411.3" y="137.5">1</text>
<text class="cb" x="411.3" y="155.9">0.5</text>
<text class="cb" x="411.3" y="174.4">0</text>
<text class="cb" x="411.3" y="192.9">-0.5</text>
<text class="cb" x="411.3" y="211.3">-1</text>
<text class="cb" x="411.3" y="229.8">-1.5</text>
<text class="cb" x="411.3" y="248.2">-2</text>
<text class="cb" x="411.3" y="266.7">-3</text>
<clipPath id="clip1"><polygon points="642.7,34.3 644.0,35.9 643.4,39.1 641.4,41.7 645.3,43.6 647.9,46.2 646.0,50.1 644.7,53.9 641.4,57.8 638.2,59.7 637.6,63.6 635.7,68.7 634.4,73.8 633.1,75.1 631.8,80.3 628.0,84.1 622.8,88.0 619.6,90.6 619.6,94.4 617.0,97.6 617.7,102.1 620.9,105.3 623.4,109.2 625.4,112.4 628.6,114.3 629.2,117.6 628.6,120.1 625.4,124.0 622.8,126.6 624.7,129.1 622.2,133.6 619.0,137.5 615.7,140.7 613.2,142.6 612.5,147.1 613.2,149.7 611.9,152.3 613.8,154.8 614.4,159.3 615.7,163.8 616.4,165.1 615.1,170.3 614.4,175.4 615.7,181.2 617.0,185.7 619.0,190.8 620.9,197.3 620.2,201.1 617.7,205.0 614.4,210.1 612.5,215.3 610.6,220.4 608.0,226.2 605.4,230.7 606.1,233.9 608.0,237.1 608.0,241.0 610.6,243.6 611.9,247.4 613.2,250.6 615.7,252.6 614.4,256.4 617.7,259.0 620.9,261.6 620.2,265.4 622.8,268.0 623.4,271.2 622.2,273.8 626.7,275.7 630.5,278.3 634.4,282.1 637.6,285.3 638.9,289.8 638.8,295.1 634.9,299.0 631.1,302.9 626.0,306.1 622.1,302.9 618.9,299.6 613.1,301.6 606.7,302.9 600.2,300.9 593.8,301.6 587.4,299.6 581.0,299.0 576.5,300.3 572.6,303.5 577.1,304.8 583.5,306.1 586.7,308.0 586.1,311.9 587.4,314.4 593.8,315.1 599.6,316.3 601.5,318.9 602.8,322.1 604.1,325.3 600.2,327.3 593.8,327.9 587.4,327.9 582.2,327.3 578.4,329.8 576.5,333.7 575.2,337.6 575.7,341.1 578.2,344.3 578.9,349.4 580.2,354.6 580.8,359.1 577.6,362.3 572.4,363.6 567.3,364.2 564.7,362.3 562.2,359.1 556.4,355.2 550.0,352.0 543.5,348.8 538.4,346.2 533.9,343.6 530.7,341.1 525.5,340.4 519.8,341.0 514.7,343.0 511.4,345.0 508.2,343.7 504.4,341.8 500.4,338.6 495.4,336.0 490.2,334.7 488.4,332.0 485.7,330.0 482.4,332.0 478.7,333.4 474.2,329.6 473.4,326.3 471.0,323.0 464.4,322.5 458.1,321.9 453.0,323.8 447.8,324.5 444.0,325.1 437.5,323.2 432.4,321.3 430.5,318.1 426.0,317.4 419.5,320.6 413.1,322.6 409.3,321.3 408.0,317.4 407.3,314.2 410.5,313.6 415.7,312.9 420.8,310.3 424.0,305.8 425.3,302.6 422.1,300.0 417.6,297.5 416.3,294.3 420.2,293.0 420.8,289.8 422.7,287.9 426.0,285.3 428.5,284.6 432.4,285.3 436.2,286.6 440.1,285.9 444.0,284.6 447.2,284.6 450.7,288.0 451.0,286.0 450.4,284.6 448.4,280.1 447.8,275.0 447.4,271.0 448.9,264.0 449.5,259.5 454.7,257.6 457.3,255.0 456.0,251.1 452.1,247.9 445.7,246.6 441.2,244.7 441.8,242.8 445.7,238.9 448.9,235.7 449.5,231.9 448.3,228.0 448.9,224.8 452.1,222.2 458.5,222.2 465.0,222.9 470.1,224.1 474.0,227.4 477.8,230.6 481.7,229.9 488.1,229.3 493.2,227.4 499.7,228.0 504.8,226.7 503.5,224.1 500.3,220.9 497.1,217.1 499.0,214.5 503.5,214.5 507.1,214.2 512.2,214.8 518.7,214.2 525.1,213.6 531.5,213.6 536.0,212.3 538.0,208.4 537.3,203.9 534.7,199.4 533.5,194.3 532.8,189.1 535.4,187.2 539.2,184.0 541.2,179.5 539.9,175.0 538.9,173.4 538.2,168.9 535.7,165.7 530.5,165.7 525.4,161.2 519.6,158.6 515.1,159.9 510.0,157.4 507.4,152.9 499.7,150.9 492.6,149.6 488.1,147.1 482.3,145.5 481.7,141.0 481.7,136.1 481.0,129.7 481.7,124.6 483.0,119.4 484.3,115.6 488.1,113.0 492.6,111.1 496.5,108.5 498.4,105.9 502.9,107.2 507.4,108.5 510.6,110.4 511.9,113.6 515.1,115.3 519.0,116.2 522.8,115.6 528.0,115.6 533.1,114.3 538.2,114.9 542.1,115.3 545.7,114.3 545.3,107.9 544.9,102.7 544.5,100.0 546.5,99.3 548.4,101.9 550.3,104.5 552.9,101.9 555.5,99.3 555.5,97.4 551.6,94.2 551.6,91.0 554.2,86.5 557.4,82.0 561.9,77.5 566.4,74.3 567.0,71.7 570.2,70.4 575.4,66.6 579.9,64.6 581.8,60.1 586.8,55.8 591.3,53.9 592.0,50.7 590.0,48.8 592.0,47.9 595.8,50.1 602.2,46.9 604.2,44.9 601.0,42.4 601.6,40.4 606.1,40.4 610.0,44.3 613.8,43.6 617.7,43.0 620.9,46.2 622.8,48.1 625.4,46.2 629.2,41.7 633.1,38.5 638.2,35.3"/></clipPath>
<g clip-path="url(#clip1)">
<rect x="391.4" y="20" width="280" height="360" fill="#fbaaa5"/>
<polygon points="661.4,186.0 618.0,192.0 610.0,196.0 602.0,199.0 596.0,204.0 586.0,208.0 574.0,210.0 570.0,212.0 556.0,214.0 546.0,215.0 538.0,217.0 532.0,220.0 528.0,222.0 522.0,221.0 516.0,219.0 510.0,221.0 505.0,223.0 500.0,220.0 497.0,217.0 481.4,214.0 391.4,214.0 391.4,380.0 661.4,380.0" fill="#ffcb9f"/>
<polyline points="498.4,146.0 499.4,139.0 501.4,134.0 506.4,134.0 509.4,138.0 514.4,137.0 520.4,133.0 521.4,128.0 526.4,126.0 530.4,130.0 532.4,136.0 534.4,143.0" fill="none" stroke="rgba(170,120,80,0.22)" stroke-width="0.6"/>
<polyline points="543.4,137.0 547.4,133.0 555.4,130.0 565.4,128.0 571.4,124.0 575.4,123.0 581.4,125.0 589.4,127.0 596.4,130.0 599.4,134.0 601.4,140.0 609.4,143.0 612.9,142.5" fill="none" stroke="rgba(170,120,80,0.22)" stroke-width="0.6"/>
<polyline points="619.0,190.8 613.8,192.8 607.4,195.3 601.6,197.9 604.2,201.1 606.7,203.7 603.5,208.2 597.1,208.8 590.7,209.5 584.3,208.2 576.5,208.8 571.4,206.9 563.7,202.0 558.5,203.9 554.7,206.5 550.8,209.1 545.7,209.7 541.8,205.8 537.3,203.9" fill="none" stroke="rgba(170,120,80,0.22)" stroke-width="0.6"/>
<polyline points="545.7,209.7 541.8,214.8 538.0,218.7 532.8,223.8 530.2,229.0" fill="none" stroke="rgba(170,120,80,0.22)" stroke-width="0.6"/>
<polyline points="510.4,286.0 515.4,290.0 517.4,296.0 515.4,304.0 516.4,310.0 519.4,320.0 518.4,332.0 515.4,341.0" fill="none" stroke="rgba(170,120,80,0.25)" stroke-width="0.6" stroke-dasharray="1.2 0.8"/>
<polyline points="527.4,285.0 537.4,288.0 535.4,296.0 539.4,299.0 551.4,300.0 561.4,299.0 571.4,300.0 573.4,303.0" fill="none" stroke="rgba(170,120,80,0.25)" stroke-width="0.6" stroke-dasharray="1.2 0.8"/>
<polyline points="527.4,285.0 536.4,282.5 545.4,280.5" fill="none" stroke="rgba(170,120,80,0.25)" stroke-width="0.6" stroke-dasharray="1.2 0.8"/>
<polyline points="475.4,279.0 481.4,278.0 489.4,282.0 499.4,277.0 501.4,270.0 505.4,266.0 510.4,263.0 513.4,256.0 512.4,249.0 509.4,243.0 510.4,236.0 507.4,230.0 504.8,226.7" fill="none" stroke="rgba(170,120,80,0.25)" stroke-width="0.6" stroke-dasharray="1.2 0.8"/>
<polyline points="501.4,270.0 509.4,272.0 517.4,270.0 527.4,272.0 536.4,269.0 545.4,272.0 553.4,277.0 565.4,279.0" fill="none" stroke="rgba(170,120,80,0.25)" stroke-width="0.6" stroke-dasharray="1.2 0.8"/>
</g>
<polygon points="642.7,34.3 644.0,35.9 643.4,39.1 641.4,41.7 645.3,43.6 647.9,46.2 646.0,50.1 644.7,53.9 641.4,57.8 638.2,59.7 637.6,63.6 635.7,68.7 634.4,73.8 633.1,75.1 631.8,80.3 628.0,84.1 622.8,88.0 619.6,90.6 619.6,94.4 617.0,97.6 617.7,102.1 620.9,105.3 623.4,109.2 625.4,112.4 628.6,114.3 629.2,117.6 628.6,120.1 625.4,124.0 622.8,126.6 624.7,129.1 622.2,133.6 619.0,137.5 615.7,140.7 613.2,142.6 612.5,147.1 613.2,149.7 611.9,152.3 613.8,154.8 614.4,159.3 615.7,163.8 616.4,165.1 615.1,170.3 614.4,175.4 615.7,181.2 617.0,185.7 619.0,190.8 620.9,197.3 620.2,201.1 617.7,205.0 614.4,210.1 612.5,215.3 610.6,220.4 608.0,226.2 605.4,230.7 606.1,233.9 608.0,237.1 608.0,241.0 610.6,243.6 611.9,247.4 613.2,250.6 615.7,252.6 614.4,256.4 617.7,259.0 620.9,261.6 620.2,265.4 622.8,268.0 623.4,271.2 622.2,273.8 626.7,275.7 630.5,278.3 634.4,282.1 637.6,285.3 638.9,289.8 638.8,295.1 634.9,299.0 631.1,302.9 626.0,306.1 622.1,302.9 618.9,299.6 613.1,301.6 606.7,302.9 600.2,300.9 593.8,301.6 587.4,299.6 581.0,299.0 576.5,300.3 572.6,303.5 577.1,304.8 583.5,306.1 586.7,308.0 586.1,311.9 587.4,314.4 593.8,315.1 599.6,316.3 601.5,318.9 602.8,322.1 604.1,325.3 600.2,327.3 593.8,327.9 587.4,327.9 582.2,327.3 578.4,329.8 576.5,333.7 575.2,337.6 575.7,341.1 578.2,344.3 578.9,349.4 580.2,354.6 580.8,359.1 577.6,362.3 572.4,363.6 567.3,364.2 564.7,362.3 562.2,359.1 556.4,355.2 550.0,352.0 543.5,348.8 538.4,346.2 533.9,343.6 530.7,341.1 525.5,340.4 519.8,341.0 514.7,343.0 511.4,345.0 508.2,343.7 504.4,341.8 500.4,338.6 495.4,336.0 490.2,334.7 488.4,332.0 485.7,330.0 482.4,332.0 478.7,333.4 474.2,329.6 473.4,326.3 471.0,323.0 464.4,322.5 458.1,321.9 453.0,323.8 447.8,324.5 444.0,325.1 437.5,323.2 432.4,321.3 430.5,318.1 426.0,317.4 419.5,320.6 413.1,322.6 409.3,321.3 408.0,317.4 407.3,314.2 410.5,313.6 415.7,312.9 420.8,310.3 424.0,305.8 425.3,302.6 422.1,300.0 417.6,297.5 416.3,294.3 420.2,293.0 420.8,289.8 422.7,287.9 426.0,285.3 428.5,284.6 432.4,285.3 436.2,286.6 440.1,285.9 444.0,284.6 447.2,284.6 450.7,288.0 451.0,286.0 450.4,284.6 448.4,280.1 447.8,275.0 447.4,271.0 448.9,264.0 449.5,259.5 454.7,257.6 457.3,255.0 456.0,251.1 452.1,247.9 445.7,246.6 441.2,244.7 441.8,242.8 445.7,238.9 448.9,235.7 449.5,231.9 448.3,228.0 448.9,224.8 452.1,222.2 458.5,222.2 465.0,222.9 470.1,224.1 474.0,227.4 477.8,230.6 481.7,229.9 488.1,229.3 493.2,227.4 499.7,228.0 504.8,226.7 503.5,224.1 500.3,220.9 497.1,217.1 499.0,214.5 503.5,214.5 507.1,214.2 512.2,214.8 518.7,214.2 525.1,213.6 531.5,213.6 536.0,212.3 538.0,208.4 537.3,203.9 534.7,199.4 533.5,194.3 532.8,189.1 535.4,187.2 539.2,184.0 541.2,179.5 539.9,175.0 538.9,173.4 538.2,168.9 535.7,165.7 530.5,165.7 525.4,161.2 519.6,158.6 515.1,159.9 510.0,157.4 507.4,152.9 499.7,150.9 492.6,149.6 488.1,147.1 482.3,145.5 481.7,141.0 481.7,136.1 481.0,129.7 481.7,124.6 483.0,119.4 484.3,115.6 488.1,113.0 492.6,111.1 496.5,108.5 498.4,105.9 502.9,107.2 507.4,108.5 510.6,110.4 511.9,113.6 515.1,115.3 519.0,116.2 522.8,115.6 528.0,115.6 533.1,114.3 538.2,114.9 542.1,115.3 545.7,114.3 545.3,107.9 544.9,102.7 544.5,100.0 546.5,99.3 548.4,101.9 550.3,104.5 552.9,101.9 555.5,99.3 555.5,97.4 551.6,94.2 551.6,91.0 554.2,86.5 557.4,82.0 561.9,77.5 566.4,74.3 567.0,71.7 570.2,70.4 575.4,66.6 579.9,64.6 581.8,60.1 586.8,55.8 591.3,53.9 592.0,50.7 590.0,48.8 592.0,47.9 595.8,50.1 602.2,46.9 604.2,44.9 601.0,42.4 601.6,40.4 606.1,40.4 610.0,44.3 613.8,43.6 617.7,43.0 620.9,46.2 622.8,48.1 625.4,46.2 629.2,41.7 633.1,38.5 638.2,35.3" fill="none" stroke="#2c3a2c" stroke-width="0.55" stroke-linejoin="round"/>
<rect x="636.5" y="55.1" width="1.8" height="1.8" fill="#f23a3a"/>
<rect x="614.5" y="63.5" width="1.8" height="1.8" fill="#f23a3a"/>
<rect x="585.5" y="86.5" width="1.8" height="1.8" fill="#f23a3a"/>
<rect x="615.1" y="96.5" width="1.8" height="1.8" fill="#f23a3a"/>
<rect x="562.5" y="101.1" width="1.8" height="1.8" fill="#f23a3a"/>
<rect x="544.5" y="114.1" width="1.8" height="1.8" fill="#f23a3a"/>
<rect x="602.5" y="107.7" width="1.8" height="1.8" fill="#f23a3a"/>
<rect x="596.9" y="114.7" width="1.8" height="1.8" fill="#f23a3a"/>
<rect x="604.1" y="118.7" width="1.8" height="1.8" fill="#f23a3a"/>
<rect x="624.5" y="118.1" width="1.8" height="1.8" fill="#f23a3a"/>
<rect x="582.1" y="132.1" width="1.8" height="1.8" fill="#f23a3a"/>
<rect x="599.9" y="135.1" width="1.8" height="1.8" fill="#f23a3a"/>
<rect x="602.1" y="144.7" width="1.8" height="1.8" fill="#f23a3a"/>
<rect x="566.1" y="144.7" width="1.8" height="1.8" fill="#f23a3a"/>
<rect x="543.1" y="149.1" width="1.8" height="1.8" fill="#f23a3a"/>
<rect x="571.5" y="157.5" width="1.8" height="1.8" fill="#f23a3a"/>
<rect x="597.5" y="157.7" width="1.8" height="1.8" fill="#f23a3a"/>
<rect x="493.1" y="115.5" width="1.8" height="1.8" fill="#f23a3a"/>
<rect x="567.1" y="170.5" width="1.8" height="1.8" fill="#f23a3a"/>
<rect x="568.5" y="181.5" width="1.8" height="1.8" fill="#f23a3a"/>
<rect x="602.5" y="179.1" width="1.8" height="1.8" fill="#f23a3a"/>
<rect x="570.1" y="191.5" width="1.8" height="1.8" fill="#f23a3a"/>
<rect x="563.5" y="199.7" width="1.8" height="1.8" fill="#f23a3a"/>
<rect x="587.1" y="198.5" width="1.8" height="1.8" fill="#f23a3a"/>
<rect x="613.9" y="204.1" width="1.8" height="1.8" fill="#f23a3a"/>
<rect x="555.9" y="205.7" width="1.8" height="1.8" fill="#f23a3a"/>
<rect x="502.5" y="215.3" width="1.8" height="1.8" fill="#f23a3a"/>
<rect x="523.5" y="216.6" width="1.8" height="1.8" fill="#f23a3a"/>
<rect x="577.1" y="216.1" width="1.8" height="1.8" fill="#f23a3a"/>
<rect x="591.1" y="216.1" width="1.8" height="1.8" fill="#f23a3a"/>
<rect x="601.1" y="214.1" width="1.8" height="1.8" fill="#f23a3a"/>
<rect x="577.1" y="225.1" width="1.8" height="1.8" fill="#f23a3a"/>
<rect x="533.9" y="231.1" width="1.8" height="1.8" fill="#f23a3a"/>
<rect x="560.1" y="233.3" width="1.8" height="1.8" fill="#f23a3a"/>
<rect x="593.3" y="232.1" width="1.8" height="1.8" fill="#f23a3a"/>
<rect x="461.9" y="228.1" width="1.8" height="1.8" fill="#f23a3a"/>
<rect x="474.1" y="238.1" width="1.8" height="1.8" fill="#f23a3a"/>
<rect x="484.9" y="243.1" width="1.8" height="1.8" fill="#f23a3a"/>
<rect x="501.5" y="236.7" width="1.8" height="1.8" fill="#f23a3a"/>
<rect x="517.1" y="236.1" width="1.8" height="1.8" fill="#f23a3a"/>
<rect x="496.1" y="246.5" width="1.8" height="1.8" fill="#f23a3a"/>
<rect x="474.1" y="251.1" width="1.8" height="1.8" fill="#f23a3a"/>
<rect x="499.9" y="252.7" width="1.8" height="1.8" fill="#f23a3a"/>
<rect x="506.1" y="250.1" width="1.8" height="1.8" fill="#f23a3a"/>
<rect x="513.5" y="253.7" width="1.8" height="1.8" fill="#f23a3a"/>
<rect x="520.5" y="252.1" width="1.8" height="1.8" fill="#f23a3a"/>
<rect x="529.9" y="253.6" width="1.8" height="1.8" fill="#f23a3a"/>
<rect x="520.5" y="242.1" width="1.8" height="1.8" fill="#f23a3a"/>
<rect x="531.0" y="244.1" width="1.8" height="1.8" fill="#f23a3a"/>
<rect x="541.1" y="248.3" width="1.8" height="1.8" fill="#f23a3a"/>
<rect x="551.5" y="247.4" width="1.8" height="1.8" fill="#f23a3a"/>
<rect x="549.5" y="239.1" width="1.8" height="1.8" fill="#f23a3a"/>
<rect x="544.5" y="239.7" width="1.8" height="1.8" fill="#f23a3a"/>
<rect x="556.5" y="242.5" width="1.8" height="1.8" fill="#f23a3a"/>
<rect x="519.1" y="260.1" width="1.8" height="1.8" fill="#f23a3a"/>
<rect x="482.5" y="264.1" width="1.8" height="1.8" fill="#f23a3a"/>
<rect x="450.0" y="268.5" width="1.8" height="1.8" fill="#f23a3a"/>
<rect x="547.5" y="261.9" width="1.8" height="1.8" fill="#f23a3a"/>
<rect x="562.5" y="248.5" width="1.8" height="1.8" fill="#f23a3a"/>
<rect x="573.5" y="248.5" width="1.8" height="1.8" fill="#f23a3a"/>
<rect x="599.5" y="239.1" width="1.8" height="1.8" fill="#f23a3a"/>
<rect x="604.5" y="242.5" width="1.8" height="1.8" fill="#f23a3a"/>
<rect x="598.1" y="245.1" width="1.8" height="1.8" fill="#f23a3a"/>
<rect x="566.1" y="258.5" width="1.8" height="1.8" fill="#f23a3a"/>
<rect x="601.1" y="261.1" width="1.8" height="1.8" fill="#f23a3a"/>
<rect x="557.9" y="279.1" width="1.8" height="1.8" fill="#f23a3a"/>
<rect x="608.5" y="277.7" width="1.8" height="1.8" fill="#f23a3a"/>
<rect x="632.1" y="284.7" width="1.8" height="1.8" fill="#f23a3a"/>
<rect x="559.1" y="289.1" width="1.8" height="1.8" fill="#f23a3a"/>
<rect x="524.1" y="293.7" width="1.8" height="1.8" fill="#f23a3a"/>
<rect x="522.5" y="305.1" width="1.8" height="1.8" fill="#f23a3a"/>
<rect x="589.5" y="283.7" width="1.8" height="1.8" fill="#f23a3a"/>
<rect x="510.0" y="285.4" width="1.8" height="1.8" fill="#f23a3a"/>
<rect x="465.9" y="280.7" width="1.8" height="1.8" fill="#f23a3a"/>
<rect x="433.1" y="294.1" width="1.8" height="1.8" fill="#f23a3a"/>
<rect x="456.1" y="300.1" width="1.8" height="1.8" fill="#f23a3a"/>
<rect x="437.9" y="314.1" width="1.8" height="1.8" fill="#f23a3a"/>
<rect x="465.9" y="307.1" width="1.8" height="1.8" fill="#f23a3a"/>
<rect x="470.5" y="304.1" width="1.8" height="1.8" fill="#f23a3a"/>
<rect x="482.9" y="300.1" width="1.8" height="1.8" fill="#f23a3a"/>
<rect x="491.9" y="298.1" width="1.8" height="1.8" fill="#f23a3a"/>
<rect x="499.1" y="307.7" width="1.8" height="1.8" fill="#f23a3a"/>
<rect x="506.5" y="327.1" width="1.8" height="1.8" fill="#f23a3a"/>
<rect x="531.9" y="311.1" width="1.8" height="1.8" fill="#f23a3a"/>
<rect x="568.1" y="313.5" width="1.8" height="1.8" fill="#f23a3a"/>
<rect x="599.9" y="315.1" width="1.8" height="1.8" fill="#f23a3a"/>
<rect x="553.9" y="319.1" width="1.8" height="1.8" fill="#f23a3a"/>
<rect x="533.1" y="326.7" width="1.8" height="1.8" fill="#f23a3a"/>
<rect x="566.9" y="332.1" width="1.8" height="1.8" fill="#f23a3a"/>
<rect x="548.5" y="335.7" width="1.8" height="1.8" fill="#f23a3a"/>
<rect x="574.9" y="353.1" width="1.8" height="1.8" fill="#f23a3a"/>
<rect x="585.5" y="86.5" width="1.8" height="1.8" fill="#f23a3a"/>
<text class="v" text-anchor="middle" x="637.4" y="53.9">16.6</text>
<text class="v" text-anchor="middle" x="615.4" y="62.3">16.3</text>
<text class="v" text-anchor="middle" x="586.4" y="85.3">15.9</text>
<text class="v" text-anchor="middle" x="616.0" y="95.3">17.4</text>
<text class="v" text-anchor="middle" x="563.4" y="99.9">16</text>
<text class="v" text-anchor="middle" x="545.4" y="112.9">15.5</text>
<text class="v" text-anchor="middle" x="603.4" y="106.5">16.9</text>
<text class="v" text-anchor="middle" x="597.8" y="113.5">16.9</text>
<text class="v" text-anchor="middle" x="605.0" y="117.5">17.2</text>
<text class="v" text-anchor="middle" x="625.4" y="116.9">16.7</text>
<text class="v" text-anchor="middle" x="583.0" y="130.9">16.2</text>
<text class="v" text-anchor="middle" x="600.8" y="133.9">16.7</text>
<text class="v" text-anchor="middle" x="603.0" y="143.5">17.5</text>
<text class="v" text-anchor="middle" x="567.0" y="143.5">15.6</text>
<text class="v" text-anchor="middle" x="544.0" y="147.9">14.7</text>
<text class="v" text-anchor="middle" x="572.4" y="156.3">16.7</text>
<text class="v" text-anchor="middle" x="598.4" y="156.5">16.9</text>
<text class="v" text-anchor="middle" x="494.0" y="114.3">15.5</text>
<text class="v" text-anchor="middle" x="568.0" y="169.3">15.1</text>
<text class="v" text-anchor="middle" x="569.4" y="180.3">15.5</text>
<text class="v" text-anchor="middle" x="603.4" y="177.9">16.7</text>
<text class="v" text-anchor="middle" x="571.0" y="190.3">15.8</text>
<text class="v" text-anchor="middle" x="564.4" y="198.5">16.9</text>
<text class="v" text-anchor="middle" x="588.0" y="197.3">14.5</text>
<text class="v g" text-anchor="middle" x="614.8" y="202.9">19.8</text>
<text class="v" text-anchor="middle" x="556.8" y="204.5">15.2</text>
<text class="v" text-anchor="middle" x="503.4" y="214.1">15.2</text>
<text class="v" text-anchor="middle" x="524.4" y="215.4">16.4</text>
<text class="v" text-anchor="middle" x="578.0" y="214.9">16.9</text>
<text class="v" text-anchor="middle" x="592.0" y="214.9">17.9</text>
<text class="v" text-anchor="middle" x="602.0" y="212.9">17.7</text>
<text class="v" text-anchor="middle" x="578.0" y="223.9">19.2</text>
<text class="v" text-anchor="middle" x="534.8" y="229.9">15.5</text>
<text class="v" text-anchor="middle" x="561.0" y="232.1">18.2</text>
<text class="v" text-anchor="middle" x="594.2" y="230.9">19.2</text>
<text class="v" text-anchor="middle" x="462.8" y="226.9">15.7</text>
<text class="v" text-anchor="middle" x="475.0" y="236.9">16.3</text>
<text class="v" text-anchor="middle" x="485.8" y="241.9">16.5</text>
<text class="v g" text-anchor="middle" x="502.4" y="235.5">14.3</text>
<text class="v" text-anchor="middle" x="518.0" y="234.9">16.3</text>
<text class="v" text-anchor="middle" x="497.0" y="245.3">16.8</text>
<text class="v" text-anchor="middle" x="475.0" y="249.9">18.5</text>
<text class="v" text-anchor="middle" x="500.8" y="251.5">17.9</text>
<text class="v g" text-anchor="middle" x="507.0" y="248.9">17.6</text>
<text class="v g" text-anchor="middle" x="514.4" y="252.5">18</text>
<text class="v" text-anchor="middle" x="521.4" y="250.9">18.1</text>
<text class="v" text-anchor="middle" x="530.8" y="252.4">18.2</text>
<text class="v g" text-anchor="middle" x="521.4" y="240.9">17.8</text>
<text class="v" text-anchor="middle" x="542.0" y="247.1">19</text>
<text class="v" text-anchor="middle" x="552.4" y="246.2">19.8</text>
<text class="v g" text-anchor="middle" x="550.4" y="237.9">17.5</text>
<text class="v g" text-anchor="middle" x="545.4" y="238.5">17.1</text>
<text class="v" text-anchor="middle" x="557.4" y="241.3">19.7</text>
<text class="v" text-anchor="middle" x="520.0" y="258.9">18.9</text>
<text class="v" text-anchor="middle" x="483.4" y="262.9">12.6</text>
<text class="v" text-anchor="middle" x="450.9" y="267.3">18.1</text>
<text class="v" text-anchor="middle" x="548.4" y="260.7">18.3</text>
<text class="v" text-anchor="middle" x="563.4" y="247.3">19</text>
<text class="v" text-anchor="middle" x="574.4" y="247.3">19.1</text>
<text class="v" text-anchor="middle" x="600.4" y="237.9">19.7</text>
<text class="v g" text-anchor="middle" x="605.4" y="241.3">18.7</text>
<text class="v" text-anchor="middle" x="599.0" y="243.9">18.6</text>
<text class="v" text-anchor="middle" x="567.0" y="257.3">17.8</text>
<text class="v" text-anchor="middle" x="602.0" y="259.9">15.7</text>
<text class="v" text-anchor="middle" x="558.8" y="277.9">16.3</text>
<text class="v" text-anchor="middle" x="609.4" y="276.5">18</text>
<text class="v" text-anchor="middle" x="633.0" y="283.5">18.1</text>
<text class="v" text-anchor="middle" x="560.0" y="287.9">12.7</text>
<text class="v" text-anchor="middle" x="525.0" y="292.5">16.2</text>
<text class="v" text-anchor="middle" x="523.4" y="303.9">18.4</text>
<text class="v" text-anchor="middle" x="510.9" y="284.2">16.3</text>
<text class="v" text-anchor="middle" x="466.8" y="279.5">13.5</text>
<text class="v" text-anchor="middle" x="434.0" y="292.9">17.7</text>
<text class="v" text-anchor="middle" x="457.0" y="298.9">18.8</text>
<text class="v" text-anchor="middle" x="438.8" y="312.9">16.8</text>
<text class="v" text-anchor="middle" x="466.8" y="305.9">18.1</text>
<text class="v" text-anchor="middle" x="471.4" y="302.9">19.1</text>
<text class="v" text-anchor="middle" x="483.8" y="298.9">18.7</text>
<text class="v" text-anchor="middle" x="492.8" y="296.9">18.8</text>
<text class="v" text-anchor="middle" x="500.0" y="306.5">18.6</text>
<text class="v" text-anchor="middle" x="507.4" y="325.9">17.3</text>
<text class="v" text-anchor="middle" x="532.8" y="309.9">19</text>
<text class="v" text-anchor="middle" x="569.0" y="312.3">19.9</text>
<text class="v" text-anchor="middle" x="600.8" y="313.9">19.5</text>
<text class="v" text-anchor="middle" x="554.8" y="317.9">19.6</text>
<text class="v" text-anchor="middle" x="534.0" y="325.5">18.8</text>
<text class="v" text-anchor="middle" x="567.8" y="330.9">18.3</text>
<text class="v" text-anchor="middle" x="549.4" y="334.5">19.1</text>
<text class="v" text-anchor="middle" x="575.8" y="351.9">15.2</text>
<text class="c" x="577.7" y="93.7" textLength="17.4" lengthAdjust="spacingAndGlyphs">榆林</text>
<text class="c" x="564.1" y="165.1" textLength="17.4" lengthAdjust="spacingAndGlyphs">延安</text>
<text class="c" x="549.7" y="222.1" textLength="17.4" lengthAdjust="spacingAndGlyphs">铜川</text>
<text class="c" x="575.7" y="239.1" textLength="17.4" lengthAdjust="spacingAndGlyphs">渭南</text>
<text class="c" x="524.7" y="244.1" textLength="17.4" lengthAdjust="spacingAndGlyphs">咸阳</text>
<text class="c" x="542.7" y="268.1" textLength="17.4" lengthAdjust="spacingAndGlyphs">西安</text>
<text class="c" x="466.3" y="257.7" textLength="17.4" lengthAdjust="spacingAndGlyphs">宝鸡</text>
<text class="c" x="583.7" y="285.5" textLength="17.4" lengthAdjust="spacingAndGlyphs">商洛</text>
<text class="c" x="475.1" y="310.7" textLength="17.4" lengthAdjust="spacingAndGlyphs">汉中</text>
<text class="c" x="545.7" y="326.1" textLength="17.4" lengthAdjust="spacingAndGlyphs">安康</text>
</g>
</svg>
</body></html>
